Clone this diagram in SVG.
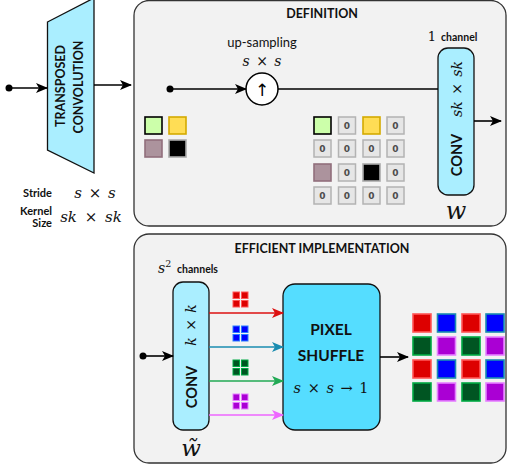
<svg xmlns="http://www.w3.org/2000/svg" width="507" height="465" viewBox="0 0 507 465">
<style>
.panel{fill:#f2f2f2;stroke:#333;stroke-width:1.3}
.lbl{font-family:Lato,"Open Sans",sans-serif;font-weight:bold;fill:#111}
.reg{font-family:Lato,"Open Sans",sans-serif;fill:#111}
.math{font-family:"DejaVu Serif","Liberation Serif",serif;font-style:italic;fill:#111;word-spacing:2px}
.mrom{font-family:"DejaVu Serif","Liberation Serif",serif;fill:#111}
.box{fill:#aaeeff;stroke:#111;stroke-width:1.3}
.ln{stroke:#000;stroke-width:1.6;fill:none}
.z{fill:#e6e6e6;stroke:#b3b3b3;stroke-width:1.5}
.zt{font-family:"DejaVu Sans",sans-serif;font-weight:bold;font-size:9px;fill:#4d4d4d;text-anchor:middle}
.cr{fill:#dd0000;stroke:#ff5555;stroke-width:1.6}
.cb{fill:#0000ff;stroke:#1a8cb0;stroke-width:1.6}
.cg{fill:#005522;stroke:#00aa44;stroke-width:1.6}
.cp{fill:#aa00d4;stroke:#e580ff;stroke-width:1.6}
.tr{fill:#dd0000;stroke:#ff5555;stroke-width:1}
.tb{fill:#0000ff;stroke:#2a7fff;stroke-width:1}
.tg{fill:#005522;stroke:#00aa44;stroke-width:1}
.tp{fill:#aa00d4;stroke:#e580ff;stroke-width:1}
</style>
<defs>
<marker id="ak" markerWidth="12" markerHeight="10" refX="11" refY="5" orient="auto" markerUnits="userSpaceOnUse"><path d="M0,0 L12,5 L0,10 L3,5 Z" fill="#000"/></marker>
<marker id="ar" markerWidth="12" markerHeight="10" refX="11" refY="5" orient="auto" markerUnits="userSpaceOnUse"><path d="M0,0 L12,5 L0,10 L3,5 Z" fill="#dd1111"/></marker>
<marker id="ab" markerWidth="12" markerHeight="10" refX="11" refY="5" orient="auto" markerUnits="userSpaceOnUse"><path d="M0,0 L12,5 L0,10 L3,5 Z" fill="#1a8cb0"/></marker>
<marker id="ag" markerWidth="12" markerHeight="10" refX="11" refY="5" orient="auto" markerUnits="userSpaceOnUse"><path d="M0,0 L12,5 L0,10 L3,5 Z" fill="#22aa55"/></marker>
<marker id="ap" markerWidth="12" markerHeight="10" refX="11" refY="5" orient="auto" markerUnits="userSpaceOnUse"><path d="M0,0 L12,5 L0,10 L3,5 Z" fill="#ee66ff"/></marker>
</defs>

<g id="panel-definition">
<rect class="panel" x="134" y="0.5" width="372" height="225.5" rx="15"/>
<text class="lbl" x="322" y="18" font-size="12.5" text-anchor="middle">DEFINITION</text>
<text class="reg" x="262" y="47" font-size="13" text-anchor="middle">up-sampling</text>
<text class="math" x="262" y="66" font-size="14" text-anchor="middle">s <tspan font-style="normal">×</tspan> s</text>
</g>

<g id="panel-efficient">
<rect class="panel" x="134" y="234" width="372" height="229" rx="15"/>
<text class="lbl" x="322" y="253" font-size="12.5" text-anchor="middle">EFFICIENT IMPLEMENTATION</text>
</g>

<g id="transposed-conv">
<polygon points="47.5,22 94,-2 94,173 47.5,150" fill="#aaeeff" stroke="#111" stroke-width="1.3"/>
<text class="lbl" font-size="12.5" text-anchor="middle" dominant-baseline="central" transform="translate(60,86) rotate(-90)">TRANSPOSED</text>
<text class="lbl" font-size="12.5" text-anchor="middle" dominant-baseline="central" transform="translate(78,87) rotate(-90)">CONVOLUTION</text>
</g>

<g id="params">
<text class="lbl" x="52" y="197" font-size="11" text-anchor="end">Stride</text>
<text class="math" x="95" y="198" font-size="15" text-anchor="middle">s <tspan font-style="normal">×</tspan> s</text>
<text class="lbl" x="52" y="215" font-size="11" text-anchor="end">Kernel</text>
<text class="lbl" x="52" y="227" font-size="11" text-anchor="end">Size</text>
<text class="math" x="91" y="222" font-size="15" text-anchor="middle" style="word-spacing:3px">sk <tspan font-style="normal">×</tspan> sk</text>
</g>

<g id="upsample">
<circle cx="262" cy="89" r="16" fill="#fff" stroke="#000" stroke-width="1.5"/>
<text x="262" y="95.5" font-size="17" text-anchor="middle" font-family="'DejaVu Sans',sans-serif" fill="#000">↑</text>
</g>

<g id="conv-w">
<rect class="box" x="438" y="48" width="36" height="147" rx="10"/>
<text class="mrom" x="432" y="41" font-size="13" text-anchor="middle">1</text>
<text class="lbl" x="441" y="41" font-size="10.5">channel</text>
<text class="math" font-size="14" text-anchor="middle" dominant-baseline="central" transform="translate(457,89) rotate(-90)">sk <tspan font-style="normal">×</tspan> sk</text>
<text class="lbl" font-size="14.5" text-anchor="middle" dominant-baseline="central" transform="translate(456,155) rotate(-90)">CONV</text>
<text class="math" x="456" y="219" font-size="24" text-anchor="middle">w</text>
</g>

<g id="input-pixels">
<rect x="145" y="117" width="17" height="17" fill="#ccffaa" stroke="#000" stroke-width="1.6"/>
<rect x="169" y="117" width="17" height="17" fill="#ffdd55" stroke="#d4aa00" stroke-width="1.6"/>
<rect x="145" y="140" width="17" height="17" fill="#ac939d" stroke="#916f7c" stroke-width="1.6"/>
<rect x="169" y="140" width="17" height="17" fill="#000" stroke="#aaa" stroke-width="1.6"/>
</g>

<g id="upsampled-grid">
<rect x="314" y="117" width="17" height="17" fill="#ccffaa" stroke="#000" stroke-width="1.6"/>
<rect class="z" x="338.5" y="117" width="17" height="17"/>
<rect x="363" y="117" width="17" height="17" fill="#ffdd55" stroke="#d4aa00" stroke-width="1.6"/>
<rect class="z" x="387" y="117" width="17" height="17"/>
<rect class="z" x="314" y="140" width="17" height="17"/>
<rect class="z" x="338.5" y="140" width="17" height="17"/>
<rect class="z" x="363" y="140" width="17" height="17"/>
<rect class="z" x="387" y="140" width="17" height="17"/>
<rect x="314" y="164" width="17" height="17" fill="#ac939d" stroke="#916f7c" stroke-width="1.6"/>
<rect class="z" x="338.5" y="164" width="17" height="17"/>
<rect x="363" y="164" width="17" height="17" fill="#000" stroke="#aaa" stroke-width="1.6"/>
<rect class="z" x="387" y="164" width="17" height="17"/>
<rect class="z" x="314" y="187" width="17" height="17"/>
<rect class="z" x="338.5" y="187" width="17" height="17"/>
<rect class="z" x="363" y="187" width="17" height="17"/>
<rect class="z" x="387" y="187" width="17" height="17"/>
<text class="zt" x="347" y="129">0</text>
<text class="zt" x="395.5" y="129">0</text>
<text class="zt" x="322.5" y="152">0</text>
<text class="zt" x="347" y="152">0</text>
<text class="zt" x="371.5" y="152">0</text>
<text class="zt" x="395.5" y="152">0</text>
<text class="zt" x="347" y="176">0</text>
<text class="zt" x="395.5" y="176">0</text>
<text class="zt" x="322.5" y="199">0</text>
<text class="zt" x="347" y="199">0</text>
<text class="zt" x="371.5" y="199">0</text>
<text class="zt" x="395.5" y="199">0</text>
</g>

<g id="conv-wtilde">
<rect class="box" x="173" y="282" width="36" height="148" rx="10"/>
<text class="math" x="158" y="273" font-size="14">s<tspan font-style="normal" font-size="9.5" dy="-6">2</tspan></text>
<text class="lbl" x="177" y="273" font-size="10.5">channels</text>
<text class="math" font-size="14" text-anchor="middle" dominant-baseline="central" transform="translate(191,325) rotate(-90)">k <tspan font-style="normal">×</tspan> k</text>
<text class="lbl" font-size="14.5" text-anchor="middle" dominant-baseline="central" transform="translate(191,387) rotate(-90)">CONV</text>
<text class="math" x="191" y="456" font-size="23" text-anchor="middle">w̃</text>
</g>

<g id="pixel-shuffle">
<rect x="283" y="284" width="97" height="146" rx="12" fill="#55ddff" stroke="#111" stroke-width="1.3"/>
<text class="lbl" x="331" y="335" font-size="15.5" text-anchor="middle">PIXEL</text>
<text class="lbl" x="331" y="361" font-size="15.5" text-anchor="middle">SHUFFLE</text>
<text class="math" x="331" y="393" font-size="14.5" text-anchor="middle">s <tspan font-style="normal">×</tspan> s <tspan font-style="normal">→ 1</tspan></text>
</g>

<g id="channel-icons">
<rect class="tr" x="233" y="292" width="6.5" height="6.5"/><rect class="tr" x="241.5" y="292" width="6.5" height="6.5"/>
<rect class="tr" x="233" y="300.5" width="6.5" height="6.5"/><rect class="tr" x="241.5" y="300.5" width="6.5" height="6.5"/>
<rect class="tb" x="233" y="326" width="6.5" height="6.5"/><rect class="tb" x="241.5" y="326" width="6.5" height="6.5"/>
<rect class="tb" x="233" y="334.5" width="6.5" height="6.5"/><rect class="tb" x="241.5" y="334.5" width="6.5" height="6.5"/>
<rect class="tg" x="233" y="360" width="6.5" height="6.5"/><rect class="tg" x="241.5" y="360" width="6.5" height="6.5"/>
<rect class="tg" x="233" y="368.5" width="6.5" height="6.5"/><rect class="tg" x="241.5" y="368.5" width="6.5" height="6.5"/>
<rect class="tp" x="233" y="394" width="6.5" height="6.5"/><rect class="tp" x="241.5" y="394" width="6.5" height="6.5"/>
<rect class="tp" x="233" y="402.5" width="6.5" height="6.5"/><rect class="tp" x="241.5" y="402.5" width="6.5" height="6.5"/>
</g>

<g id="output-grid">
<rect class="cr" x="413" y="314" width="18" height="18"/><rect class="cb" x="437.5" y="314" width="18" height="18"/><rect class="cr" x="462" y="314" width="18" height="18"/><rect class="cb" x="486" y="314" width="18" height="18"/>
<rect class="cg" x="413" y="337" width="18" height="18"/><rect class="cp" x="437.5" y="337" width="18" height="18"/><rect class="cg" x="462" y="337" width="18" height="18"/><rect class="cp" x="486" y="337" width="18" height="18"/>
<rect class="cr" x="413" y="360" width="18" height="18"/><rect class="cb" x="437.5" y="360" width="18" height="18"/><rect class="cr" x="462" y="360" width="18" height="18"/><rect class="cb" x="486" y="360" width="18" height="18"/>
<rect class="cg" x="413" y="383" width="18" height="18"/><rect class="cp" x="437.5" y="383" width="18" height="18"/><rect class="cg" x="462" y="383" width="18" height="18"/><rect class="cp" x="486" y="383" width="18" height="18"/>
</g>

<g id="connectors">
<circle cx="9" cy="88" r="3.5" fill="#000"/>
<line class="ln" x1="9" y1="88" x2="47" y2="88" marker-end="url(#ak)"/>
<line class="ln" x1="94" y1="85" x2="131" y2="85" marker-end="url(#ak)"/>
<circle cx="170" cy="89" r="3.5" fill="#000"/>
<line class="ln" x1="170" y1="89" x2="246" y2="89" marker-end="url(#ak)"/>
<line class="ln" x1="278" y1="89" x2="438" y2="89"/>
<line class="ln" x1="474" y1="121" x2="501" y2="121" marker-end="url(#ak)"/>
<circle cx="143" cy="356" r="3.5" fill="#000"/>
<line class="ln" x1="143" y1="356" x2="173" y2="356" marker-end="url(#ak)"/>
<line x1="209" y1="313" x2="283" y2="313" stroke="#dd1111" stroke-width="1.6" marker-end="url(#ar)"/>
<line x1="209" y1="347" x2="283" y2="347" stroke="#1a8cb0" stroke-width="1.6" marker-end="url(#ab)"/>
<line x1="209" y1="381" x2="283" y2="381" stroke="#22aa55" stroke-width="1.6" marker-end="url(#ag)"/>
<line x1="209" y1="415" x2="283" y2="415" stroke="#ee66ff" stroke-width="1.6" marker-end="url(#ap)"/>
<line class="ln" x1="380" y1="357" x2="408" y2="357" marker-end="url(#ak)"/>
</g>
</svg>
